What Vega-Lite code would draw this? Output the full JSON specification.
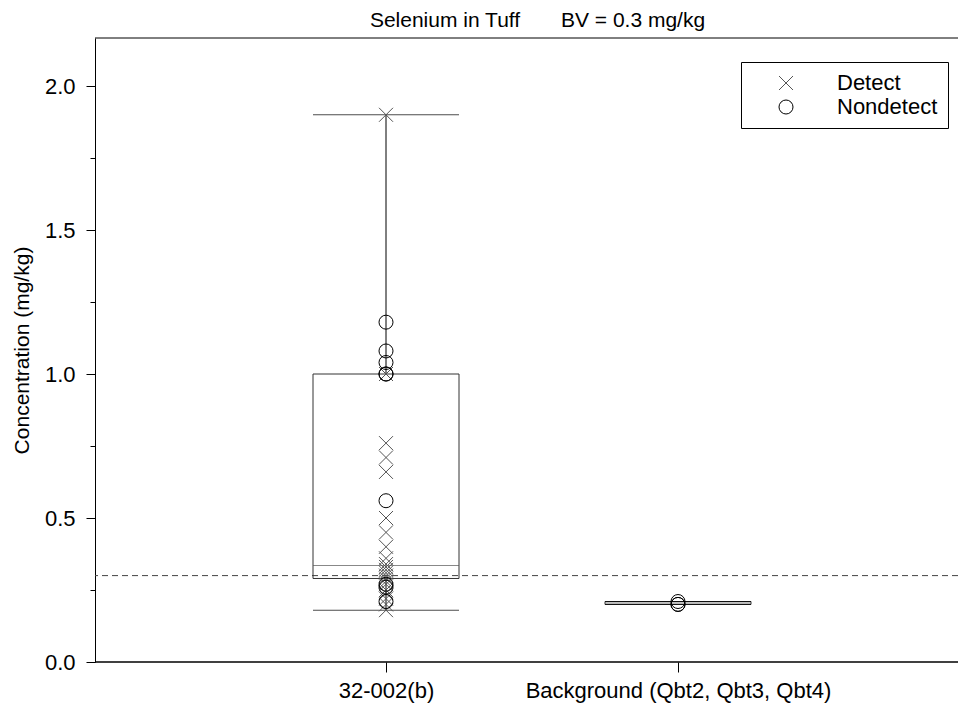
{
  "$schema": "https://vega.github.io/schema/vega-lite/v6.json",
  "width": 863,
  "height": 624,
  "autosize": {"type": "none"},
  "padding": {"left": 95, "top": 38, "right": 0, "bottom": 51},
  "background": "white",
  "config": {
    "view": {"stroke": null},
    "font": "Liberation Sans",
    "axis": {"labelFont": "Liberation Sans", "titleFont": "Liberation Sans"},
    "legend": {"labelFont": "Liberation Sans"}
  },
  "title": {
    "text": "Selenium in Tuff\u00a0\u00a0\u00a0\u00a0\u00a0\u00a0 BV = 0.3 mg/kg",
    "font": "Liberation Sans",
    "fontSize": 21,
    "fontWeight": "normal",
    "color": "black",
    "anchor": "middle",
    "offset": 7,
    "dx": 11
  },
  "datasets": {
    "samples": [
      {"site": "32-002(b)", "value": 1.9, "result": "Detect"},
      {"site": "32-002(b)", "value": 1.0, "result": "Detect"},
      {"site": "32-002(b)", "value": 0.76, "result": "Detect"},
      {"site": "32-002(b)", "value": 0.71, "result": "Detect"},
      {"site": "32-002(b)", "value": 0.66, "result": "Detect"},
      {"site": "32-002(b)", "value": 0.5, "result": "Detect"},
      {"site": "32-002(b)", "value": 0.45, "result": "Detect"},
      {"site": "32-002(b)", "value": 0.4, "result": "Detect"},
      {"site": "32-002(b)", "value": 0.36, "result": "Detect"},
      {"site": "32-002(b)", "value": 0.34, "result": "Detect"},
      {"site": "32-002(b)", "value": 0.33, "result": "Detect"},
      {"site": "32-002(b)", "value": 0.32, "result": "Detect"},
      {"site": "32-002(b)", "value": 0.31, "result": "Detect"},
      {"site": "32-002(b)", "value": 0.3, "result": "Detect"},
      {"site": "32-002(b)", "value": 0.29, "result": "Detect"},
      {"site": "32-002(b)", "value": 0.28, "result": "Detect"},
      {"site": "32-002(b)", "value": 0.27, "result": "Detect"},
      {"site": "32-002(b)", "value": 0.25, "result": "Detect"},
      {"site": "32-002(b)", "value": 0.24, "result": "Detect"},
      {"site": "32-002(b)", "value": 0.22, "result": "Detect"},
      {"site": "32-002(b)", "value": 0.2, "result": "Detect"},
      {"site": "32-002(b)", "value": 0.18, "result": "Detect"},
      {"site": "32-002(b)", "value": 1.18, "result": "Nondetect"},
      {"site": "32-002(b)", "value": 1.08, "result": "Nondetect"},
      {"site": "32-002(b)", "value": 1.04, "result": "Nondetect"},
      {"site": "32-002(b)", "value": 1.0, "result": "Nondetect"},
      {"site": "32-002(b)", "value": 1.0, "result": "Nondetect"},
      {"site": "32-002(b)", "value": 0.56, "result": "Nondetect"},
      {"site": "32-002(b)", "value": 0.27, "result": "Nondetect"},
      {"site": "32-002(b)", "value": 0.26, "result": "Nondetect"},
      {"site": "32-002(b)", "value": 0.21, "result": "Nondetect"},
      {"site": "Background (Qbt2, Qbt3, Qbt4)", "value": 0.2, "result": "Nondetect"},
      {"site": "Background (Qbt2, Qbt3, Qbt4)", "value": 0.2, "result": "Nondetect"},
      {"site": "Background (Qbt2, Qbt3, Qbt4)", "value": 0.21, "result": "Nondetect"}
    ],
    "summary": [
      {"site": "32-002(b)", "lo": 0.18, "q1": 0.29, "median": 0.335, "q3": 1.0, "hi": 1.9},
      {"site": "Background (Qbt2, Qbt3, Qbt4)", "lo": 0.2, "q1": 0.2, "median": 0.205, "q3": 0.21, "hi": 0.21}
    ]
  },
  "layer": [
    {
      "description": "Frame line along the top of the plot, carrying the y axis",
      "data": {"values": [{}]},
      "mark": {"type": "rule", "color": "black", "strokeWidth": 1},
      "encoding": {
        "y": {
          "datum": 2.1667,
          "type": "quantitative",
          "scale": {"domain": [0, 2.1667], "nice": false, "zero": true},
          "axis": {
            "title": "Concentration (mg/kg)",
            "grid": false,
            "values": [0, 0.25, 0.5, 0.75, 1.0, 1.25, 1.5, 1.75, 2.0],
            "labelExpr": "datum.value % 0.5 === 0 ? format(datum.value, '.1f') : ''",
            "tickSize": 9,
            "tickDash": {"condition": {"test": "datum.value % 0.5 !== 0", "value": [5, 20]}, "value": []},
            "tickColor": "black",
            "tickWidth": 1,
            "domainColor": "black",
            "domainWidth": 1,
            "labelFontSize": 22,
            "labelColor": "black",
            "labelPadding": 11,
            "titleFontSize": 21,
            "titleFontWeight": "normal",
            "titleColor": "black",
            "titlePadding": 12
          }
        }
      }
    },
    {
      "description": "Bottom frame line",
      "data": {"values": [{}]},
      "mark": {"type": "rule", "color": "black", "strokeWidth": 1.5},
      "encoding": {"y": {"datum": 0, "type": "quantitative"}}
    },
    {
      "description": "Background value",
      "data": {"values": [{}]},
      "mark": {"type": "rule", "color": "#444", "strokeWidth": 1, "strokeDash": [6, 4]},
      "encoding": {"y": {"datum": 0.3, "type": "quantitative"}}
    },
    {
      "encoding": {
        "x": {
          "field": "site",
          "type": "nominal",
          "sort": null,
          "scale": {
            "type": "point",
            "domain": ["32-002(b)", "Background (Qbt2, Qbt3, Qbt4)"],
            "range": [291, 583],
            "padding": 0
          },
          "axis": {
            "title": null,
            "labelAngle": 0,
            "labelLimit": 0,
            "domain": false,
            "tickSize": 10,
            "tickColor": "black",
            "labelFontSize": 22,
            "labelColor": "black",
            "labelPadding": 8
          }
        }
      },
      "layer": [
        {
          "data": {"name": "summary"},
          "mark": {"type": "bar", "size": 146, "fill": "white", "fillOpacity": 0, "stroke": "#333", "strokeWidth": 1},
          "encoding": {
            "y": {"field": "q1", "type": "quantitative"},
            "y2": {"field": "q3"}
          }
        },
        {
          "data": {"name": "summary"},
          "mark": {"type": "rule", "color": "black", "strokeWidth": 1},
          "encoding": {
            "y": {"field": "q3", "type": "quantitative"},
            "y2": {"field": "hi"}
          }
        },
        {
          "data": {"name": "summary"},
          "mark": {"type": "rule", "color": "black", "strokeWidth": 1},
          "encoding": {
            "y": {"field": "lo", "type": "quantitative"},
            "y2": {"field": "q1"}
          }
        },
        {
          "data": {"name": "summary"},
          "mark": {"type": "tick", "size": 146, "thickness": 1, "color": "black"},
          "encoding": {"y": {"field": "hi", "type": "quantitative"}}
        },
        {
          "data": {"name": "summary"},
          "mark": {"type": "tick", "size": 146, "thickness": 1, "color": "black"},
          "encoding": {"y": {"field": "lo", "type": "quantitative"}}
        },
        {
          "data": {"name": "summary"},
          "mark": {"type": "tick", "size": 146, "thickness": 1, "color": "#555"},
          "encoding": {"y": {"field": "median", "type": "quantitative"}}
        },
        {
          "data": {"name": "samples"},
          "mark": {"type": "point", "filled": false, "size": 196, "strokeWidth": 1, "opacity": 1},
          "encoding": {
            "y": {"field": "value", "type": "quantitative"},
            "shape": {
              "field": "result",
              "type": "nominal",
              "scale": {"domain": ["Detect", "Nondetect"], "range": ["M-1,-1L1,1M-1,1L1,-1", "circle"]},
              "legend": {
                "title": null,
                "orient": "none",
                "legendX": 646,
                "legendY": 24,
                "padding": 10,
                "strokeColor": "black",
                "fillColor": "white",
                "symbolSize": 196,
                "symbolStrokeWidth": 1,
                "symbolOffset": 24,
                "labelOffset": 40,
                "rowPadding": 2,
                "labelFontSize": 22,
                "labelColor": "black",
                "labelExpr": "datum.label + '  '"
              }
            },
            "color": {
              "field": "result",
              "type": "nominal",
              "scale": {"domain": ["Detect", "Nondetect"], "range": ["#555555", "#000000"]},
              "legend": {
                "title": null,
                "orient": "none",
                "legendX": 646,
                "legendY": 24,
                "padding": 10,
                "strokeColor": "black",
                "fillColor": "white",
                "symbolSize": 196,
                "symbolStrokeWidth": 1,
                "symbolOffset": 24,
                "labelOffset": 40,
                "rowPadding": 2,
                "labelFontSize": 22,
                "labelColor": "black",
                "labelExpr": "datum.label + '  '"
              }
            }
          }
        }
      ]
    }
  ]
}
